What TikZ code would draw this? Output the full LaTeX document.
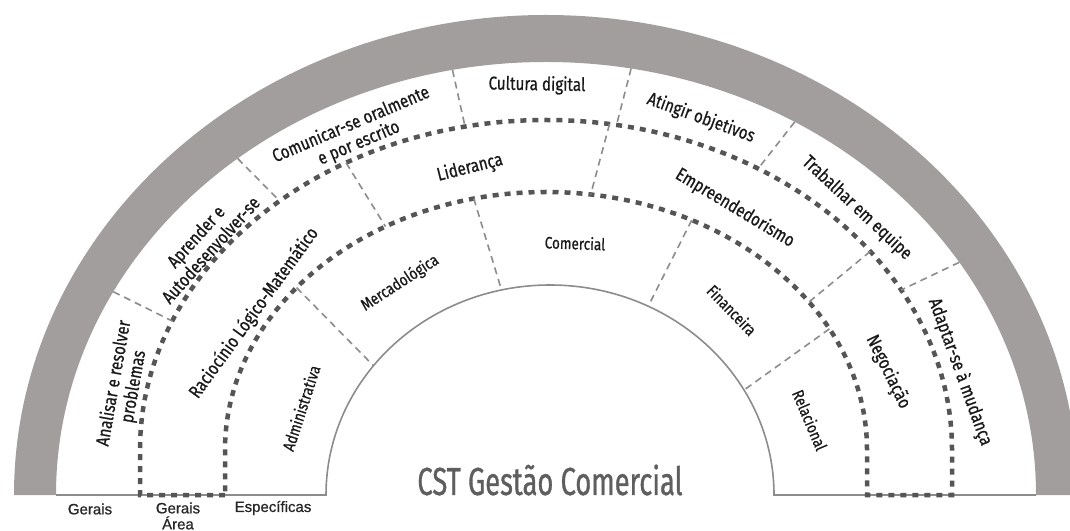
\documentclass[tikz,border=0pt]{standalone}
\usepackage{fontspec}
\setmainfont{Liberation Sans}
\newfontfamily\narrowfont{Fira Sans}[FakeStretch=0.82,FakeBold=0.7]
\newfontfamily\titlefont{Fira Sans}[FakeStretch=0.7,FakeBold=0.8]
\newfontfamily\levelfont{Liberation Sans}[FakeBold=0.8]
\usetikzlibrary{calc}
\definecolor{bandgrey}{HTML}{A29E9E}
\definecolor{dotgrey}{HTML}{555555}
\definecolor{linegrey}{HTML}{8C8C8C}
\definecolor{titlegrey}{HTML}{5E5E5E}

\begin{document}
\begin{tikzpicture}[x=1pt,y=1pt]
	\tikzset{band/.style = {fill=bandgrey}}
	\tikzset{ring/.style = {draw=dotgrey,line width=4.5pt,dash pattern=on 6pt off 6pt}}
	\tikzset{sep/.style = {draw=linegrey,line width=1.6pt,dash pattern=on 7pt off 5pt}}
	\tikzset{rim/.style = {draw=linegrey,line width=1.6pt}}
	\tikzset{big/.style = {font=\narrowfont\fontsize{18.5}{20}\selectfont,text=black!90,align=center,inner sep=0pt}}
	\tikzset{small/.style = {font=\narrowfont\fontsize{16.5}{18}\selectfont,text=black!90,align=center,inner sep=0pt}}
	\tikzset{level/.style = {font=\levelfont\fontsize{15}{16}\selectfont,text=black!85,align=center,inner sep=0pt}}
	\useasboundingbox (0,0) rectangle (1070,530);
	\coordinate (G) at (546,35);
	\coordinate (D) at (546,80);
	\coordinate (W) at (550,35);
	% grey band
	\fill[band] (14,35) arc[start angle=180,end angle=0,x radius=532,y radius=480]
		-- (1036,35) arc[start angle=0,end angle=180,x radius=490,y radius=433] -- cycle;
	% base and inner arc
	\draw[rim] (56,35) -- (326,35) arc[start angle=180,end angle=0,x radius=224,y radius=210] -- (1036,35);
	% dotted rings
	\draw[ring] (225,35) -- (140,35) -- (140,80) arc[start angle=180,end angle=0,x radius=406,y radius=330]
		-- (952,35) -- (867,35) -- (867,80) arc[start angle=0,end angle=180,x radius=321,y radius=258] -- cycle;
	% separators
	\foreach \a/\b in {152/157,129/131,101/101.5,80/80,59.5/58.5,32.5/29}
		\draw[sep] ($(G)+(\a:490 and 433)$) -- ($(D)+(\b:406 and 330)$);
	\foreach \a/\b in {119.5/120,81/82,37/35}
		\draw[sep] ($(D)+(\a:406 and 330)$) -- ($(D)+(\b:321 and 258)$);
	\foreach \a/\b in {141/142,103/102.5,63/64,28/30}
		\draw[sep] ($(D)+(\a:321 and 258)$) -- ($(W)+(\b:224 and 210)$);
	% outer ring
	\node[big,rotate=80] (analisar) at (124,145) {Analisar e resolver\\problemas};
	\node[big,rotate=48] (aprender) at (203,287) {Aprender e\\Autodesenvolver-se};
	\node[big,rotate=23] (comunicar) at (355,396) {Comunicar-se oralmente\\e por escrito};
	\node[big,rotate=-1] (cultura) at (537,445) {Cultura digital};
	\node[big,rotate=-20] (atingir) at (701,412) {Atingir objetivos};
	\node[big,rotate=-43] (trabalhar) at (857,322) {Trabalhar em equipe};
	\node[big,rotate=-70] (adaptar) at (960,158) {Adaptar-se à mudança};
	% middle ring
	\node[big,rotate=54] (raciocinio) at (254,217) {Raciocínio Lógico-Matemático};
	\node[big,rotate=14] (lideranca) at (470,362) {Liderança};
	\node[big,rotate=-31] (empreend) at (735,322) {Empreendedorismo};
	\node[big,rotate=-64] (negociacao) at (888,158) {Negociação};
	% inner ring
	\node[small,rotate=72] (admin) at (301,122) {Administrativa};
	\node[small,rotate=33] (mercado) at (400,247) {Mercadológica};
	\node[small,rotate=-2] (comercial) at (575,287) {Comercial};
	\node[small,rotate=-46] (financeira) at (732,220) {Financeira};
	\node[small,rotate=-67] (relacional) at (810,110) {Relacional};
	% title and levels
	\node[inner sep=0pt,text=titlegrey,font=\titlefont\fontsize{39}{41}\selectfont] (title) at (550,50) {CST Gestão Comercial};
	\node[level] (gerais) at (90,21) {Gerais};
	\node[level] (area) at (178,14) {Gerais\\Área};
	\node[level] (especificas) at (273,22) {Específicas};
\end{tikzpicture}
\end{document}
